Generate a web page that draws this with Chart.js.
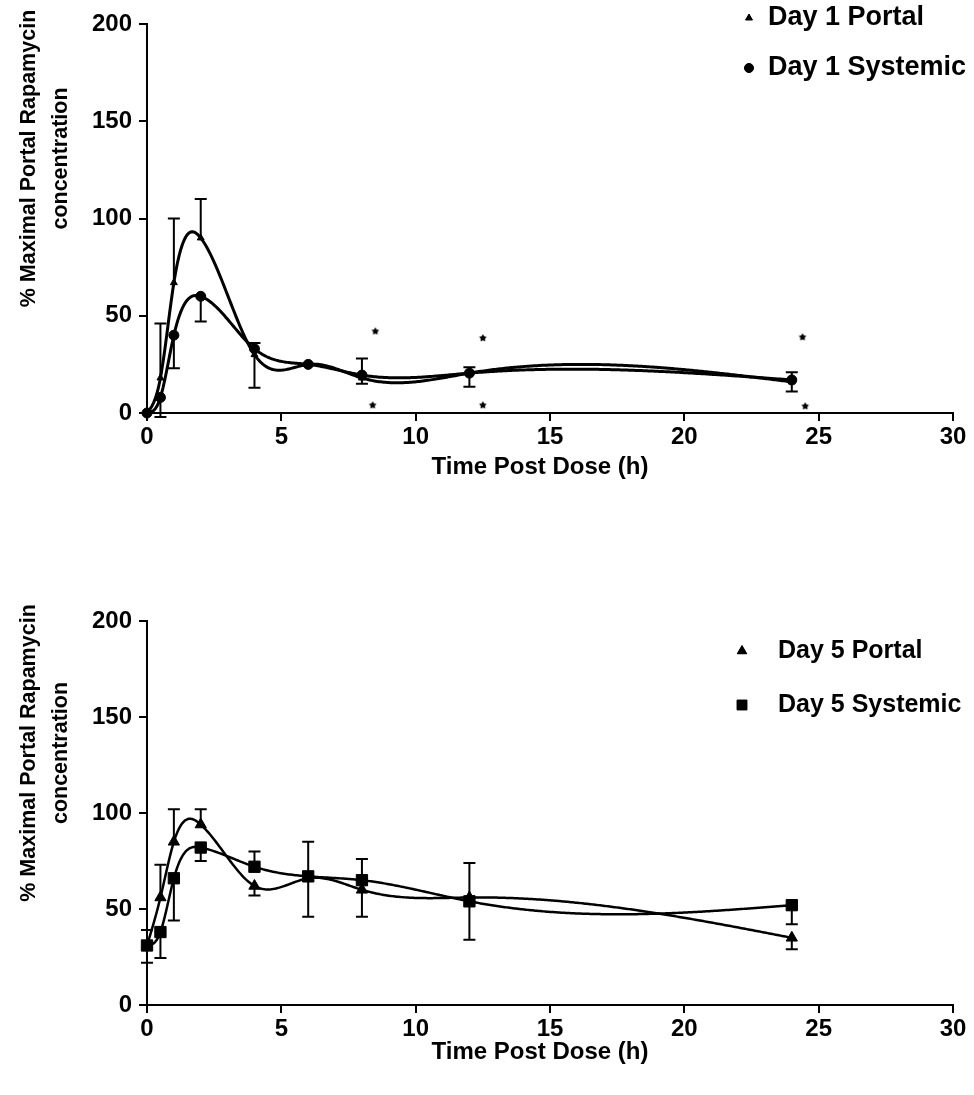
<!DOCTYPE html>
<html>
<head>
<meta charset="utf-8">
<script src="https://cdn.jsdelivr.net/npm/chart.js@4.4.1/dist/chart.umd.min.js"></script>
<style>
  html, body { margin: 0; padding: 0; background: #fff; }
  #wrap { position: relative; width: 974px; height: 1095px; }
  .panel { position: absolute; left: 0; width: 974px; }
</style>
</head>
<body>
<div id="wrap">
  <div class="panel" style="top:0;height:548px"><canvas id="day1"></canvas></div>
  <div class="panel" style="top:548px;height:547px"><canvas id="day5"></canvas></div>
</div>
<script>
// Sampling times (h) and axis ticks
const timeH  = [0, 0.5, 1, 2, 4, 6, 8, 12, 24];
const xTicks = [0, 5, 10, 15, 20, 25, 30];
const yTicks = [0, 50, 100, 150, 200];

// Day 1 (% of maximal portal concentration)
const day1Portal          = [0, 18, 67, 90, 30, 25, 18, 20.5, 16];
const day1PortalErrUp     = [0, 28, 33, 20, 6, 0, 10, 3, 5];
const day1PortalErrDown   = [0, 0, 0, 0, 0, 0, 0, 0, 0];
const day1Systemic        = [0, 8, 40, 60, 33, 25, 19.5, 20.5, 17];
const day1SystemicErrUp   = [0, 0, 0, 0, 0, 0, 0, 0, 0];
const day1SystemicErrDown = [0, 10, 17, 13, 20, 0, 4.5, 7, 6];

// Significance markers on day 1
const sigX = [8.5, 8.4, 12.5, 12.5, 24.4, 24.5];
const sigY = [42, 4, 38.5, 4, 39, 3.5];

// Day 5
const day5Portal          = [31, 56, 85, 94, 62, 66, 60, 56, 35];
const day5PortalErrUp     = [8, 17, 17, 8, 0, 19, 0, 18, 0];
const day5PortalErrDown   = [0, 0, 0, 0, 5, 0, 14, 0, 6];
const day5Systemic        = [31, 38, 66, 82, 72, 67, 65, 54, 52];
const day5SystemicErrUp   = [0, 0, 0, 0, 8, 0, 11, 0, 0];
const day5SystemicErrDown = [9, 13.5, 22, 7, 0, 21, 0, 20, 10];

const yTitleLines = ['% Maximal Portal Rapamycin', 'concentration'];
const xTitle = 'Time Post Dose (h)';

const FONT = "'Liberation Sans', Arial, Helvetica, sans-serif";
const pts = (xs, ys) => xs.map((x, i) => ({ x: x, y: ys[i] }));

// natural cubic spline through the points of a series
function naturalSpline(xs, ys) {
  const n = xs.length, h = [], al = [], l = [1], mu = [0], z = [0];
  const b = [], c = new Array(n).fill(0), d = [];
  for (let i = 0; i < n - 1; i++) h[i] = xs[i + 1] - xs[i];
  for (let i = 1; i < n - 1; i++)
    al[i] = 3 / h[i] * (ys[i + 1] - ys[i]) - 3 / h[i - 1] * (ys[i] - ys[i - 1]);
  for (let i = 1; i < n - 1; i++) {
    l[i] = 2 * (xs[i + 1] - xs[i - 1]) - h[i - 1] * mu[i - 1];
    mu[i] = h[i] / l[i];
    z[i] = (al[i] - h[i - 1] * z[i - 1]) / l[i];
  }
  for (let j = n - 2; j >= 0; j--) {
    c[j] = z[j] - mu[j] * c[j + 1];
    b[j] = (ys[j + 1] - ys[j]) / h[j] - h[j] * (c[j + 1] + 2 * c[j]) / 3;
    d[j] = (c[j + 1] - c[j]) / (3 * h[j]);
  }
  return x => {
    let j = 0;
    while (j < n - 2 && x > xs[j + 1]) j++;
    const t = x - xs[j];
    return ys[j] + b[j] * t + c[j] * t * t + d[j] * t * t * t;
  };
}

// small filled star used for the significance marks
function starImage(r) {
  const c = document.createElement('canvas');
  c.width = c.height = 2 * r + 2;
  const g = c.getContext('2d');
  g.translate(r + 1, r + 1);
  g.fillStyle = '#000';
  g.beginPath();
  for (let k = 0; k < 10; k++) {
    const rad = k % 2 ? r * 0.55 : r;
    const a = -Math.PI / 2 + k * Math.PI / 5;
    g.lineTo(rad * Math.cos(a), rad * Math.sin(a));
  }
  g.closePath();
  g.fill();
  return c;
}

// smooth curves through each series, mapped with the chart's scales
const splinePlugin = {
  id: 'splines',
  beforeDatasetsDraw(chart) {
    const ctx = chart.ctx, xs = chart.scales.x, ys = chart.scales.y;
    ctx.save();
    ctx.strokeStyle = '#000';
    ctx.lineJoin = 'round';
    ctx.lineCap = 'round';
    chart.data.datasets.forEach(ds => {
      if (!ds.splineWidth) return;
      const vx = ds.data.map(p => p.x), vy = ds.data.map(p => p.y);
      const f = naturalSpline(vx, vy);
      const x0 = vx[0], x1 = vx[vx.length - 1], steps = 400;
      ctx.lineWidth = ds.splineWidth;
      ctx.beginPath();
      for (let k = 0; k <= steps; k++) {
        const x = x0 + (x1 - x0) * k / steps;
        const px = xs.getPixelForValue(x), py = ys.getPixelForValue(f(x));
        if (k === 0) ctx.moveTo(px, py); else ctx.lineTo(px, py);
      }
      ctx.stroke();
    });
    ctx.restore();
  }
};

// vertical error bars with caps
const errorBarPlugin = {
  id: 'errorBars',
  afterDatasetsDraw(chart) {
    const ctx = chart.ctx, xs = chart.scales.x, ys = chart.scales.y;
    ctx.save();
    ctx.strokeStyle = '#000';
    ctx.lineWidth = 2;
    chart.data.datasets.forEach(ds => {
      if (!ds.errorBars) return;
      const cap = ds.errorBars.cap;
      ds.data.forEach((p, i) => {
        const px = xs.getPixelForValue(p.x);
        const py = ys.getPixelForValue(p.y);
        [[ds.errorBars.up[i], 1], [ds.errorBars.down[i], -1]].forEach(([e, s]) => {
          if (!e) return;
          const ey = ys.getPixelForValue(p.y + s * e);
          ctx.beginPath();
          ctx.moveTo(px, py); ctx.lineTo(px, ey);
          ctx.moveTo(px - cap, ey); ctx.lineTo(px + cap, ey);
          ctx.stroke();
        });
      });
    });
    ctx.restore();
  }
};

// legend and axis titles
const labelPlugin = {
  id: 'labels',
  afterDraw(chart, args, opts) {
    const ctx = chart.ctx, a = chart.chartArea;
    ctx.save();
    ctx.fillStyle = '#000';
    ctx.font = 'bold ' + opts.legendSize + 'px ' + FONT;
    ctx.textBaseline = 'middle';
    ctx.textAlign = 'left';
    opts.legend.forEach(item => {
      const ds = chart.data.datasets[item.ds];
      Chart.helpers.drawPoint(ctx, {
        pointStyle: item.style, radius: item.r, rotation: 0, borderWidth: 1
      }, opts.markerX, item.y);
      ctx.fill();
      ctx.fillText(ds.label, opts.textX, item.y);
    });
    ctx.font = 'bold ' + opts.xTitleSize + 'px ' + FONT;
    ctx.textAlign = 'center';
    ctx.fillText(xTitle, (a.left + a.right) / 2 - 10, a.bottom + opts.xTitleOffset);
    ctx.font = 'bold ' + opts.yTitleSize + 'px ' + FONT;
    ctx.translate(opts.yTitleX, (a.top + a.bottom) / 2 - 60);
    ctx.rotate(-Math.PI / 2);
    yTitleLines.forEach((line, i) => ctx.fillText(line, 0, i * opts.yLineGap));
    ctx.restore();
  }
};

function scalesFor(xHeight) {
  const tickFont = { family: FONT, size: 24, weight: 'bold' };
  return {
    x: {
      type: 'linear', min: 0, max: 30,
      afterBuildTicks: s => { s.ticks = xTicks.map(v => ({ value: v })); },
      afterFit: s => { s.height = xHeight; },
      grid: { drawOnChartArea: false, drawTicks: true, tickLength: 8, color: '#000', lineWidth: 2 },
      border: { color: '#000', width: 2 },
      ticks: { color: '#000', font: tickFont, padding: 2, maxRotation: 0 }
    },
    y: {
      type: 'linear', min: 0, max: 200,
      afterBuildTicks: s => { s.ticks = yTicks.map(v => ({ value: v })); },
      afterFit: s => { s.width = 147; },
      grid: { drawOnChartArea: false, drawTicks: true, tickLength: 8, color: '#000', lineWidth: 2 },
      border: { color: '#000', width: 2 },
      ticks: { color: '#000', font: tickFont, padding: 7 }
    }
  };
}

function seriesSet(label, ys, up, down, style, r, cap, width) {
  return {
    label: label,
    data: pts(timeH, ys),
    showLine: false,
    splineWidth: width,
    borderColor: '#000', backgroundColor: '#000',
    pointStyle: style, pointRadius: r, pointBorderWidth: 1,
    pointBackgroundColor: '#000', pointBorderColor: '#000',
    clip: false,
    errorBars: { up: up, down: down, cap: cap }
  };
}

const star = starImage(4);

new Chart(document.getElementById('day1'), {
  type: 'line',
  data: {
    datasets: [
      seriesSet('Day 1 Portal', day1Portal, day1PortalErrUp, day1PortalErrDown, 'triangle', 4, 6, 3),
      seriesSet('Day 1 Systemic', day1Systemic, day1SystemicErrUp, day1SystemicErrDown, 'circle', 5, 6, 3),
      {
        label: 'significance', data: pts(sigX, sigY), showLine: false,
        pointStyle: star, pointRadius: 4, clip: false
      }
    ]
  },
  options: {
    responsive: true, maintainAspectRatio: false, animation: false,
    layout: { padding: { top: 24, right: 21, bottom: 0, left: 0 } },
    plugins: {
      legend: { display: false }, tooltip: { enabled: false },
      labels: {
        legendSize: 27, xTitleSize: 24, yTitleSize: 21.5, markerX: 749, textX: 768,
        legend: [{ ds: 0, style: 'triangle', r: 4, y: 18 }, { ds: 1, style: 'circle', r: 4.5, y: 68 }],
        xTitleOffset: 54, yTitleX: 29, yLineGap: 32
      }
    },
    scales: scalesFor(135)
  },
  plugins: [splinePlugin, errorBarPlugin, labelPlugin]
});

new Chart(document.getElementById('day5'), {
  type: 'line',
  data: {
    datasets: [
      seriesSet('Day 5 Portal', day5Portal, day5PortalErrUp, day5PortalErrDown, 'triangle', 6.5, 6, 2.5),
      seriesSet('Day 5 Systemic', day5Systemic, day5SystemicErrUp, day5SystemicErrDown, 'rect', 8, 6, 2.5)
    ]
  },
  options: {
    responsive: true, maintainAspectRatio: false, animation: false,
    layout: { padding: { top: 73, right: 21, bottom: 0, left: 0 } },
    plugins: {
      legend: { display: false }, tooltip: { enabled: false },
      labels: {
        legendSize: 25, xTitleSize: 24, yTitleSize: 21.5, markerX: 742, textX: 778,
        legend: [{ ds: 0, style: 'triangle', r: 5.5, y: 103 }, { ds: 1, style: 'rect', r: 7, y: 157 }],
        xTitleOffset: 47, yTitleX: 29, yLineGap: 32
      }
    },
    scales: scalesFor(90)
  },
  plugins: [splinePlugin, errorBarPlugin, labelPlugin]
});
</script>
</body>
</html>
